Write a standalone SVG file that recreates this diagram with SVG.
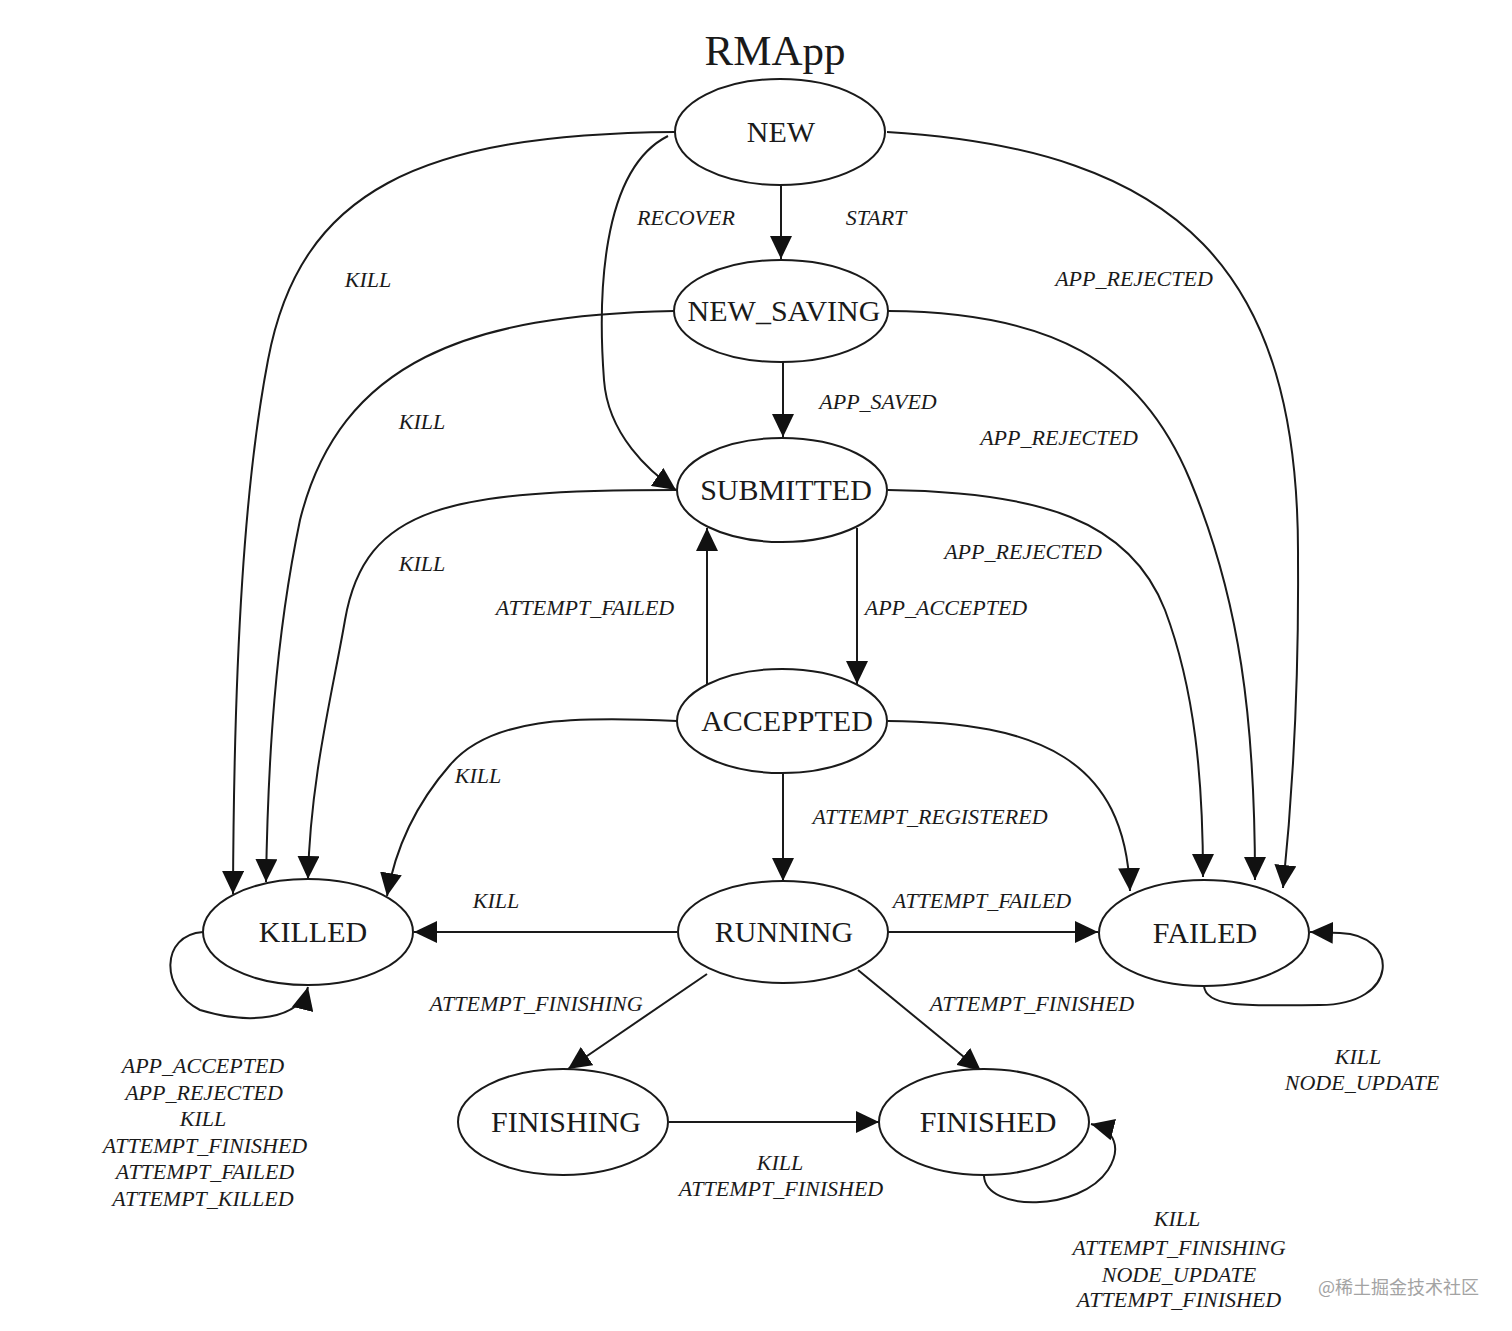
<svg xmlns="http://www.w3.org/2000/svg" width="1512" height="1331" viewBox="0 0 1512 1331">
<style>
.node ellipse{fill:#fff;stroke:#1a1a1a;stroke-width:2}
.nl{font-family:"Liberation Serif","Times New Roman",serif;font-size:30px;fill:#1a1a1a;text-anchor:middle}
.el{font-family:"Liberation Serif","Times New Roman",serif;font-size:22px;font-style:italic;fill:#1a1a1a;text-anchor:middle}
.edges path{fill:none;stroke:#1a1a1a;stroke-width:2;marker-end:url(#ah)}
.wm{font-family:"Noto Sans CJK SC","Noto Sans",sans-serif;font-size:18px;fill:#a3a3a3}
</style>
<defs>
<marker id="ah" viewBox="0 0 23 22" refX="23" refY="11" markerWidth="23" markerHeight="22" markerUnits="userSpaceOnUse" orient="auto">
<path d="M0,0 L23,11 L0,22 z" fill="#111"/>
</marker>
</defs>
<rect width="1512" height="1331" fill="#fff"/>
<text x="775" y="65" font-family="Liberation Serif, Times New Roman, serif" font-size="43" fill="#1a1a1a" text-anchor="middle">RMApp</text>

<g class="edges" id="connectors">
<path d="M675,132 C420,134 300,190 268,360 C245,480 234,650 233,894"/>
<path d="M674,311 C470,315 340,360 300,520 C275,640 268,760 266,882"/>
<path d="M677,490 C450,490 365,505 345,620 C333,690 310,780 308,879"/>
<path d="M677,721 C570,716 490,718 450,765 C415,805 395,850 387,896"/>
<path d="M677,932 L414,932"/>
<path d="M203,932 C160,935 160,990 200,1010 C250,1025 300,1020 308,987"/>
<path d="M781,185 L781,259"/>
<path d="M668,136 C600,170 598,300 604,380 C608,435 650,472 676,490"/>
<path d="M783,362 L783,437"/>
<path d="M857,528 L857,684"/>
<path d="M707,684 L707,528"/>
<path d="M783,773 L783,881"/>
<path d="M888,932 L1098,932"/>
<path d="M707,974 L568,1069"/>
<path d="M858,970 L981,1071"/>
<path d="M669,1122 L879,1122"/>
<path d="M984,1176 C986,1212 1080,1212 1108,1170 C1122,1148 1115,1130 1091,1124"/>
<path d="M1204,986 C1206,1010 1260,1005 1320,1005 C1400,1005 1400,935 1340,933 L1310,932"/>
<path d="M887,132 C1180,150 1300,270 1298,560 C1299,700 1290,820 1283,888"/>
<path d="M888,311 C1050,312 1140,360 1190,480 C1240,600 1255,720 1255,880"/>
<path d="M888,490 C1040,492 1130,520 1165,610 C1195,690 1203,780 1203,877"/>
<path d="M888,721 C1040,722 1125,760 1130,891"/>
</g>

<g id="edge-labels">
<text class="el" x="686" y="225">RECOVER</text>
<text class="el" x="876" y="225">START</text>
<text class="el" x="368" y="287">KILL</text>
<text class="el" x="1134" y="286">APP_REJECTED</text>
<text class="el" x="422" y="429">KILL</text>
<text class="el" x="878" y="409">APP_SAVED</text>
<text class="el" x="1059" y="445">APP_REJECTED</text>
<text class="el" x="422" y="571">KILL</text>
<text class="el" x="1023" y="559">APP_REJECTED</text>
<text class="el" x="585" y="615">ATTEMPT_FAILED</text>
<text class="el" x="946" y="615">APP_ACCEPTED</text>
<text class="el" x="478" y="783">KILL</text>
<text class="el" x="930" y="824">ATTEMPT_REGISTERED</text>
<text class="el" x="496" y="908">KILL</text>
<text class="el" x="982" y="908">ATTEMPT_FAILED</text>
<text class="el" x="536" y="1011">ATTEMPT_FINISHING</text>
<text class="el" x="1032" y="1011">ATTEMPT_FINISHED</text>
<text class="el" x="780" y="1170">KILL</text>
<text class="el" x="781" y="1196">ATTEMPT_FINISHED</text>
<text class="el" x="203" y="1073">APP_ACCEPTED</text>
<text class="el" x="204" y="1100">APP_REJECTED</text>
<text class="el" x="203" y="1126">KILL</text>
<text class="el" x="205" y="1153">ATTEMPT_FINISHED</text>
<text class="el" x="205" y="1179">ATTEMPT_FAILED</text>
<text class="el" x="203" y="1206">ATTEMPT_KILLED</text>
<text class="el" x="1358" y="1064">KILL</text>
<text class="el" x="1362" y="1090">NODE_UPDATE</text>
<text class="el" x="1177" y="1226">KILL</text>
<text class="el" x="1179" y="1255">ATTEMPT_FINISHING</text>
<text class="el" x="1179" y="1282">NODE_UPDATE</text>
<text class="el" x="1179" y="1307">ATTEMPT_FINISHED</text>
</g>

<g id="NEW" class="node"><ellipse cx="780" cy="132" rx="105" ry="53"/><text class="nl" x="781" y="142">NEW</text></g>
<g id="NEW_SAVING" class="node"><ellipse cx="781" cy="311" rx="107" ry="51"/><text class="nl" x="784" y="321">NEW_SAVING</text></g>
<g id="SUBMITTED" class="node"><ellipse cx="782" cy="490" rx="105" ry="52"/><text class="nl" x="786" y="500">SUBMITTED</text></g>
<g id="ACCEPPTED" class="node"><ellipse cx="782" cy="721" rx="105" ry="52"/><text class="nl" x="787" y="731">ACCEPPTED</text></g>
<g id="RUNNING" class="node"><ellipse cx="783" cy="932" rx="105" ry="51"/><text class="nl" x="784" y="942">RUNNING</text></g>
<g id="KILLED" class="node"><ellipse cx="308" cy="932" rx="105" ry="53"/><text class="nl" x="313" y="942">KILLED</text></g>
<g id="FAILED" class="node"><ellipse cx="1204" cy="933" rx="105" ry="53"/><text class="nl" x="1205" y="943">FAILED</text></g>
<g id="FINISHING" class="node"><ellipse cx="563" cy="1122" rx="105" ry="53"/><text class="nl" x="566" y="1132">FINISHING</text></g>
<g id="FINISHED" class="node"><ellipse cx="984" cy="1122" rx="105" ry="53"/><text class="nl" x="988" y="1132">FINISHED</text></g>

<text class="wm" x="1318" y="1294">@稀土掘金技术社区</text>
</svg>
